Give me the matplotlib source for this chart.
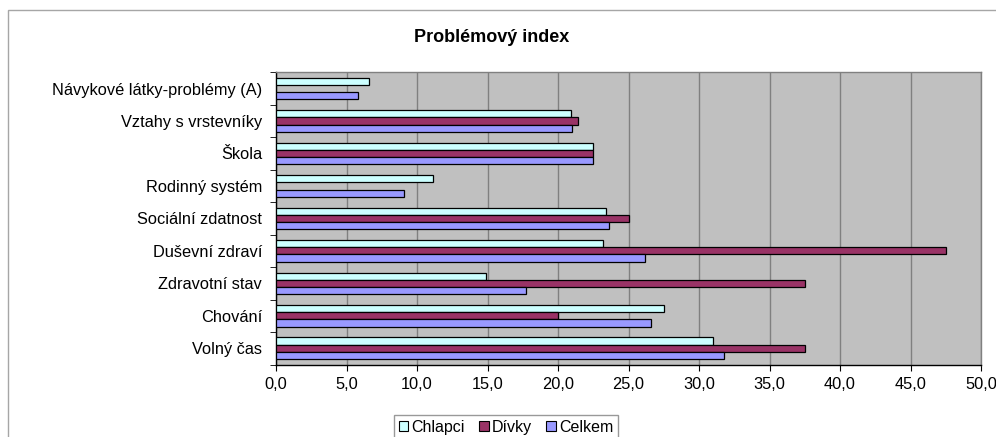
import matplotlib
matplotlib.use("Agg")
import matplotlib.pyplot as plt
import numpy as np
from matplotlib.patches import Rectangle, Patch
from matplotlib.ticker import FixedLocator, FuncFormatter

plt.rcParams['font.family'] = ['Liberation Sans', 'DejaVu Sans']

categories = ["Návykové látky-problémy (A)", "Vztahy s vrstevníky", "Škola",
              "Rodinný systém", "Sociální zdatnost", "Duševní zdraví",
              "Zdravotní stav", "Chování", "Volný čas"]
chlapci = [6.6, 20.9, 22.5, 11.1, 23.4, 23.2, 14.9, 27.5, 31.0]
divky = [0.0, 21.4, 22.5, 0.0, 25.0, 47.5, 37.5, 20.0, 37.5]
celkem = [5.8, 21.0, 22.5, 9.1, 23.6, 26.2, 17.7, 26.6, 31.8]
series_names = ["Chlapci", "Dívky", "Celkem"]
colors = ["#CCFFFF", "#993366", "#9999FF"]
title = "Problémový index"

W, H = 996, 437
fig = plt.figure(figsize=(W / 100, H / 100), dpi=100)
fig.patch.set_facecolor("white")

# chart area border
fig.patches.append(Rectangle((8 / W, -0.2), 1.2, 1 - 10 / H + 0.2,
                             transform=fig.transFigure, fill=False,
                             edgecolor="#A6A6A6", linewidth=1.0))

ax = fig.add_axes([276 / W, 1 - 364.5 / H, (981 - 276) / W, (364.5 - 72.3) / H])
ax.set_facecolor("#C0C0C0")

n = len(categories)
y = np.arange(n)
bh = 0.222
handles = []
for i, (vals, c, name) in enumerate(zip([chlapci, divky, celkem], colors, series_names)):
    vals_plot = [v if v > 0 else np.nan for v in vals]
    ax.barh(y + (i - 1) * bh, vals_plot, height=bh, color=c, edgecolor="black",
            linewidth=0.9, zorder=3)
    handles.append(Patch(facecolor=c, edgecolor="black", linewidth=0.8, label=name))

ax.set_xlim(0, 50)
ax.set_ylim(n - 0.5, -0.5)
ax.set_xticks(np.arange(0, 51, 5))
ax.xaxis.set_major_formatter(FuncFormatter(lambda v, p: f"{v:.1f}".replace(".", ",")))
ax.grid(axis="x", color="#808080", linewidth=1.0, zorder=1)
ax.set_axisbelow(True)

ax.set_yticks(y)
ax.set_yticklabels(categories)
ax.yaxis.set_minor_locator(FixedLocator(np.arange(-0.5, n, 1.0)))
ax.tick_params(axis="y", which="major", length=0, pad=10, labelsize=11.8)
ax.tick_params(axis="y", which="minor", length=4, color="black")
ax.tick_params(axis="x", which="major", length=4, labelsize=11.8, pad=5)

for s in ["top", "right"]:
    ax.spines[s].set_color("#808080")
    ax.spines[s].set_linewidth(1.0)
for s in ["left", "bottom"]:
    ax.spines[s].set_color("black")
    ax.spines[s].set_linewidth(1.0)

fig.text(492 / W, 1 - 38 / H, title, ha="center", va="center",
         fontsize=13, fontweight="bold")

leg = fig.legend(handles=handles, loc="upper center", bbox_to_anchor=(506 / W, 1 - 415 / H),
                 ncol=3, frameon=True, fancybox=False, fontsize=11.5,
                 handlelength=0.6, handleheight=0.6, handletextpad=0.2,
                 columnspacing=0.9, borderpad=0.3, borderaxespad=0)
leg.get_frame().set_edgecolor("#808080")
leg.get_frame().set_linewidth(1.0)

fig.savefig("out.png", dpi=100)
